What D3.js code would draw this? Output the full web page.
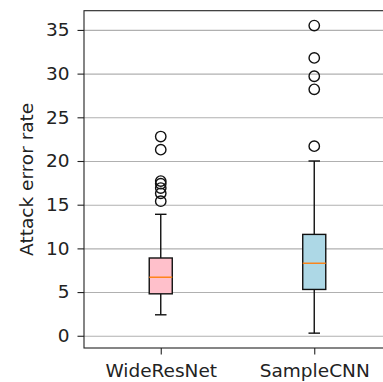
<!DOCTYPE html>
<html>
<head>
<meta charset="utf-8">
<script src="https://cdn.jsdelivr.net/npm/d3@7"></script>
<style>
  body { margin: 0; background: white; }
  text { font-family: "DejaVu Sans", sans-serif; }
</style>
</head>
<body>
<div class="chart"></div>
<script>
var categories = ['WideResNet', 'SampleCNN'];
var whiskerLow = [2.4, 0.3];
var q1 = [4.8, 5.3];
var medians = [6.7, 8.3];
var q3 = [8.9, 11.6];
var whiskerHigh = [13.9, 20.0];
var outliers = [
    [15.4, 16.3, 16.9, 17.4, 17.7, 21.3, 22.8],
    [21.7, 28.2, 29.7, 31.8, 35.5]
];
var fills = ['#ffc0cb', '#add8e6'];
var yTicks = [0, 5, 10, 15, 20, 25, 30, 35];

var width = 383,
    height = 382,
    plotLeft = 84,
    plotRight = 391,
    plotTop = 10.7,
    plotBottom = 348,
    boxWidth = 0.15,
    capWidth = 0.075;

var x = d3.scaleLinear().domain([0.5, 2.5]).range([plotLeft, plotRight]);
var y = d3.scaleLinear().domain([-1.4, 37.2]).range([plotBottom, plotTop]);

var svg = d3.select('.chart').append('svg')
    .attr('width', width)
    .attr('height', height)
    .style('background', 'white');

// grid lines behind the boxes
svg.append('g')
    .attr('transform', 'translate(' + plotLeft + ',0)')
    .call(d3.axisLeft(y).tickValues(yTicks).tickSize(-(plotRight - plotLeft)).tickFormat(''))
    .call(function(g) {
        g.select('.domain').remove();
        g.selectAll('line').attr('stroke', '#b0b0b0').attr('stroke-width', 1.1);
    });

var boxes = svg.selectAll('g.box').data(categories)
    .enter().append('g')
        .attr('class', 'box');

// whiskers
boxes.append('line')
    .attr('x1', function(d, i) { return x(i + 1); })
    .attr('x2', function(d, i) { return x(i + 1); })
    .attr('y1', function(d, i) { return y(whiskerLow[i]); })
    .attr('y2', function(d, i) { return y(q1[i]); })
    .attr('stroke', '#111').attr('stroke-width', 1.4);
boxes.append('line')
    .attr('x1', function(d, i) { return x(i + 1); })
    .attr('x2', function(d, i) { return x(i + 1); })
    .attr('y1', function(d, i) { return y(q3[i]); })
    .attr('y2', function(d, i) { return y(whiskerHigh[i]); })
    .attr('stroke', '#111').attr('stroke-width', 1.4);

// caps
[whiskerLow, whiskerHigh].forEach(function(arr) {
    boxes.append('line')
        .attr('x1', function(d, i) { return x(i + 1 - capWidth / 2); })
        .attr('x2', function(d, i) { return x(i + 1 + capWidth / 2); })
        .attr('y1', function(d, i) { return y(arr[i]); })
        .attr('y2', function(d, i) { return y(arr[i]); })
        .attr('stroke', '#111').attr('stroke-width', 1.4);
});

// boxes
boxes.append('rect')
    .attr('x', function(d, i) { return x(i + 1 - boxWidth / 2); })
    .attr('width', x(1 + boxWidth) - x(1))
    .attr('y', function(d, i) { return y(q3[i]); })
    .attr('height', function(d, i) { return y(q1[i]) - y(q3[i]); })
    .style('fill', function(d, i) { return fills[i]; })
    .attr('stroke', '#111').attr('stroke-width', 1.4);

// medians
boxes.append('line')
    .attr('x1', function(d, i) { return x(i + 1 - boxWidth / 2); })
    .attr('x2', function(d, i) { return x(i + 1 + boxWidth / 2); })
    .attr('y1', function(d, i) { return y(medians[i]); })
    .attr('y2', function(d, i) { return y(medians[i]); })
    .attr('stroke', '#ff7f0e').attr('stroke-width', 1.4);

// fliers
boxes.each(function(d, i) {
    d3.select(this).selectAll('circle').data(outliers[i])
        .enter().append('circle')
            .attr('cx', x(i + 1))
            .attr('cy', function(v) { return y(v); })
            .attr('r', 5.2)
            .attr('fill', 'none')
            .attr('stroke', '#111')
            .attr('stroke-width', 1.4);
});

// y axis
svg.append('g')
    .attr('transform', 'translate(' + plotLeft + ',0)')
    .call(d3.axisLeft(y).tickValues(yTicks).tickSize(6.5).tickPadding(8).tickSizeOuter(0))
    .call(function(g) {
        g.select('.domain').remove();
        g.selectAll('line').attr('stroke', '#222').attr('stroke-width', 1.1);
        g.selectAll('text').attr('font-size', 18.5).attr('fill', '#222')
            .attr('font-family', 'DejaVu Sans');
    });

// x axis
svg.append('g')
    .attr('transform', 'translate(0,' + plotBottom + ')')
    .call(d3.axisBottom(x).tickValues([1, 2]).tickSize(6.5).tickPadding(9)
        .tickFormat(function(d) { return categories[d - 1]; }))
    .call(function(g) {
        g.select('.domain').remove();
        g.selectAll('line').attr('stroke', '#222').attr('stroke-width', 1.1);
        g.selectAll('text').attr('font-size', 18.5).attr('fill', '#222')
            .attr('font-family', 'DejaVu Sans');
    });

// frame
svg.append('rect')
    .attr('x', plotLeft)
    .attr('y', plotTop)
    .attr('width', plotRight - plotLeft)
    .attr('height', plotBottom - plotTop)
    .attr('fill', 'none')
    .attr('stroke', '#222')
    .attr('stroke-width', 1.1);

// y label
svg.append('text')
    .text('Attack error rate')
    .attr('transform', 'translate(33,' + (plotTop + plotBottom) / 2 + ') rotate(-90)')
    .attr('text-anchor', 'middle')
    .attr('font-size', 18.5)
    .attr('fill', '#222');
</script>
</body>
</html>
